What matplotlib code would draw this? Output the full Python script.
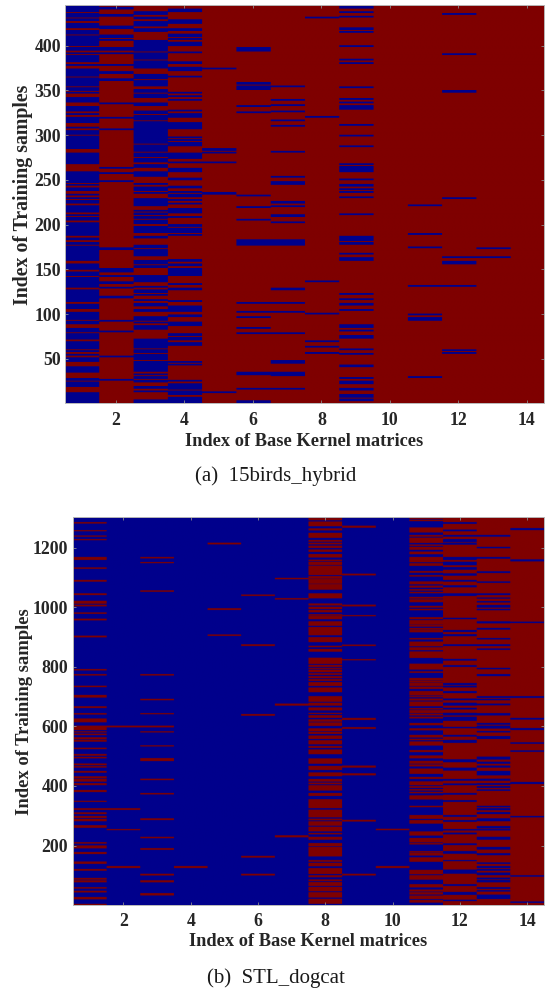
import numpy as np
import matplotlib
matplotlib.use("Agg")
import matplotlib.pyplot as plt
from matplotlib.colors import ListedColormap

plt.rcParams['font.family'] = ['Liberation Serif', 'DejaVu Serif']

W, H = 547, 992
BLUE = '#00008c'
RED = '#7f0000'
TEXT = '#262626'

# ---------- (a) 15birds_hybrid : stretches of rows that are blue on a red column ----------
a_rows = 445
a1 = [(438,445),(435,436),(432,434),(428,430),(420,425),(413,417),(400,411),(397,398),(395,396),(391,392),
      (382,389),(378,379),(366,374),(355,364),(350,353),(347,348),(337,342),(327,332),(323,324),(314,320),
      (308,309),(301,305),(289,299),(285,288),(270,280),(268,269),(247,259),(244,245),(238,241),(233,234),
      (229,230),(224,227),(214,221),(210,211),(205,208),(193,202),(188,192),(183,185),(178,180),(175,176),
      (173,175),(165,172),(160,164),(152,156),(150,152),(143,147),(137,141),(134,136),(130,133),(114,127),
      (106,111),(97,102),(94,96),(89,92),(80,84),(72,78),(67,69),(64,66),(61,64),(58,59),(54,55),(47,51),
      (35,41),(26,28),(19,24),(5,12),(3,4),(1,2)]
a2 = [(441,443),(433,435),(419,422),(411,412),(409,410),(406,407),(395,398),(391,392),(378,379),(369,371),
      (361,363),(335,336),(319,320),(306,307),(263,264),(257,258),(248,249),(172,174),(150,151),(147,149),
      (142,143),(134,136),(129,130),(118,120),(92,93),(80,81),(52,53),(26,27)]
a3 = [(435,438),(430,432),(422,427),(416,419),(404,406),(401,403),(398,400),(394,397),(385,392),(379,383),
      (375,378),(363,368),(358,361),(355,357),(348,351),(342,346),(335,336),(333,335),(324,327),(320,322),
      (317,319),(311,315),(306,310),(297,305),(295,296),(291,294),(287,289),(282,286),(278,280),(276,277),
      (270,274),(264,267),(257,259),(254,256),(245,246),(241,242),(238,240),(235,236),(227,229),(222,226),
      (221,223),(215,216),(211,213),(207,209),(201,205),(196,198),(191,195),(185,187),(174,177),(168,172),
      (165,167),(156,160),(152,154),(136,143),(130,131),(124,127),(121,122),(115,116),(109,112),(103,105),
      (95,97),(93,94),(90,91),(83,87),(66,72),(62,65),(57,60),(49,55),(36,47),(32,33),(28,30),(24,26),
      (17,19),(13,14),(3,4),(1,2)]
a4 = [(438,441),(425,429),(417,419),(410,413),(407,408),(402,404),(400,401),(392,393),(380,382),(374,376),
      (372,373),(365,366),(347,348),(343,344),(339,340),(327,328),(320,324),(312,314),(309,311),(307,308),
      (297,298),(294,295),(290,292),(288,289),(279,280),(277,278),(274,276),(269,270),(259,263),(250,252),
      (241,243),(236,237),(231,234),(227,228),(223,224),(217,218),(213,216),(208,209),(198,200),(193,196),
      (191,192),(188,189),(159,161),(154,156),(143,151),(133,134),(127,129),(114,115),(103,109),(97,99),
      (87,91),(76,78),(71,74),(65,68),(46,47),(43,44),(25,26),(16,22),(10,14),(4,7),(1,3)]
a5 = [(374,375),(283,285),(280,281),(269,270),(234,236),(12,13)]
a6 = [(397,398),(394,396),(357,359),(353,355),(351,352),(332,333),(325,326),(232,233),(219,220),(205,206),
      (180,183),(177,179),(112,113),(102,103),(96,97),(84,85),(78,79),(34,35),(32,33),(16,17),(1,3)]
a7 = [(354,355),(339,340),(333,334),(326,327),(316,317),(310,311),(281,282),(253,254),(245,248),(224,226),
      (220,221),(209,211),(202,203),(180,183),(177,179),(127,129),(112,113),(102,103),(78,79),(47,48),(45,46),
      (31,35),(16,17)]
a8 = [(431,432),(320,321),(136,137),(100,101),(69,70),(63,64),(56,57)]
a9 = [(442,444),(437,438),(432,433),(418,420),(415,416),(399,400),(384,385),(380,381),(353,354),(340,341),
      (336,337),(329,333),(311,312),(299,300),(287,288),(267,268),(259,265),(250,251),(243,245),(239,240),
      (236,237),(230,231),(211,212),(182,187),(178,180),(167,168),(160,163),(122,123),(116,117),(110,112),
      (104,105),(85,88),(81,82),(73,76),(60,61),(55,56),(41,43),(28,29),(22,25),(15,17),(7,10),(3,5)]
a10 = []
a11 = [(221,222),(189,190),(174,175),(131,132),(99,100),(93,96),(29,30)]
a12 = [(435,436),(390,391),(348,350),(229,230),(163,164),(156,159),(131,132),(59,60),(56,57)]
a13 = [(173,174),(163,164)]
a14 = []
a_blue_bands = [a1,a2,a3,a4,a5,a6,a7,a8,a9,a10,a11,a12,a13,a14]

# ---------- (b) STL_dogcat ----------
b_rows = 1302
# columns 1-11: stretches of rows that are red on a blue column
b1 = [(1281,1285),(1255,1258),(1237,1240),(1225,1228),(1159,1168),(1129,1133),(1086,1091),(1041,1046),
      (1012,1021),(1003,1008),(978,982),(956,961),(899,904),(788,792),(771,775),(732,736),(697,705),(662,667),
      (640,644),(614,626),(588,602),(580,583),(571,575),(557,563),(549,554),(524,528),(502,507),(493,497),
      (470,475),(462,466),(445,450),(426,432),(415,423),(403,409),(380,386),(347,350),(320,325),(306,311),
      (293,299),(282,289),(260,268),(207,211),(191,200),(172,178),(139,146),(116,121),(86,91),(77,83),(56,60),
      (43,48),(20,27),(1,4)]
b2 = [(597,602),(320,325),(252,255),(125,131)]
b3 = [(1164,1168),(1148,1151),(1052,1056),(771,775),(688,692),(641,644),(597,602),(580,583),(533,536),
      (484,493),(420,424),(372,376),(286,291),(225,229),(186,191),(100,105),(77,83),(33,40)]
b4 = [(125,131)]
b5 = [(1211,1216),(991,996),(904,908)]
b6 = [(1038,1042),(870,875),(636,641),(160,165),(100,105)]
b7 = [(1094,1098),(1026,1030),(670,676),(228,234)]
b8 = [(1292,1299),(1272,1287),(1258,1264),(1233,1249),(1220,1225),(1211,1216),(1199,1206),(1186,1193),
      (1167,1178),(1155,1159),(1142,1152),(1108,1139),(1096,1104),(1079,1094),(1059,1077),(1030,1046),
      (1006,1012),(994,1001),(983,990),(972,976),(960,970),(938,952),(906,933),(883,899),(866,870),(851,859),
      (810,830),(800,806),(793,796),(782,790),(773,778),(762,768),(753,758),(736,748),(715,730),(683,701),
      (670,679),(654,663),(642,645),(629,637),(616,623),(602,613),(584,593),(575,581),(558,569),(540,553),
      (528,534),(507,522),(475,492),(454,467),(433,445),(415,423),(406,411),(385,402),(367,376),(326,355),
      (295,320),(285,290),(267,281),(248,263),(238,242),(220,229),(198,208),(164,195),(146,151),(131,142),
      (105,124),(94,100),(81,86),(65,77),(47,61),(26,43),(5,21)]
b9 = [(1267,1273),(1107,1112),(1003,1008),(970,973),(870,874),(822,825),(622,628),(592,597),(462,468),
      (436,442),(281,286),(100,105)]
b10 = [(252,256),(125,131)]
b11 = [(1296,1299),(1289,1293),(1251,1267),(1237,1242),(1216,1233),(1206,1210),(1193,1202),(1178,1186),
       (1151,1168),(1139,1147),(1116,1121),(1103,1107),(1077,1086),(1066,1072),(1056,1060),(1047,1051),
       (1029,1034),(1017,1026),(999,1004),(990,994),(960,966),(942,956),(935,940),(925,930),(916,923),(892,896),
       (869,884),(856,865),(830,851),(791,810),(780,784),(755,762),(748,753),(736,746),(726,733),(704,718),
       (698,701),(687,693),(668,683),(657,661),(645,654),(637,642),(627,632),(604,611),(587,593),(563,571),
       (554,558),(536,549),(514,520),(493,502),(475,484),(466,472),(441,458),(424,430),(403,415),(394,399),
       (385,389),(376,380),(355,368),(329,333),(290,302),(274,285),(234,247),(211,225),(204,208),(177,181),
       (167,175),(146,160),(104,118),(86,100),(60,70),(46,52),(36,43),(21,32),(9,17)]
b_red_bands = [b1,b2,b3,b4,b5,b6,b7,b8,b9,b10,b11]

# columns 12-14: stretches of rows that are blue on a red column
b12 = [(1280,1285),(1255,1260),(1237,1242),(1219,1228),(1210,1216),(1159,1168),(1141,1152),(1126,1134),
       (1106,1113),(1086,1091),(1067,1073),(1038,1046),(960,964),(917,923),(903,909),(870,875),(821,826),
       (800,805),(739,745),(731,736),(712,718),(688,693),(670,679),(657,662),(637,645),(619,632),(594,598),
       (566,571),(545,554),(480,489),(452,461),(418,423),(403,408),(371,376),(347,352),(297,302),(280,285),
       (251,255),(238,243),(202,207),(173,181),(148,151),(106,119),(65,70),(35,44),(14,18)]
b13 = [(1237,1242),(1198,1202),(1163,1168),(1115,1120),(1082,1086),(1041,1046),(1029,1032),(1016,1020),
       (999,1007),(990,994),(946,952),(925,930),(892,896),(870,875),(857,861),(792,796),(769,775),(696,701),
       (688,692),(671,676),(637,644),(606,611),(593,602),(580,584),(558,567),(489,498),(475,481),(462,468),
       (436,450),(418,424),(404,409),(394,399),(384,388),(329,333),(319,325),(306,312),(282,291),(258,265),
       (251,255),(220,229),(187,195),(168,174),(139,143),(125,131),(116,121),(101,109),(87,92),(77,84),(55,60),
       (46,50),(21,35)]
b14 = [(1259,1265),(1154,1160),(947,951),(696,701),(623,628),(588,594),(542,546),(515,519),(407,413),
       (295,299),(96,100),(8,12)]
b_blue_bands = [b12,b13,b14]

x_ticks = [2,4,6,8,10,12,14]
a_y_ticks = [50,100,150,200,250,300,350,400]
b_y_ticks = [200,400,600,800,1000,1200]
x_label = 'Index of Base Kernel matrices'
y_label = 'Index of Training samples'
caption_a = '(a)  15birds_hybrid'
caption_b = '(b)  STL_dogcat'


def matrix(n_rows, n_cols):
    return np.zeros((n_rows, n_cols), dtype=int)


def paint(m, col, bands, value):
    m[:, col] = 1 - value
    for lo, hi in bands:
        m[lo - 1:hi, col] = value


A = matrix(a_rows, 14)
for c, bands in enumerate(a_blue_bands):
    paint(A, c, bands, 0)

B = matrix(b_rows, 14)
for c, bands in enumerate(b_red_bands):
    paint(B, c, bands, 1)
for c, bands in enumerate(b_blue_bands):
    paint(B, c + 11, bands, 0)

cmap = ListedColormap([BLUE, RED])
fig = plt.figure(figsize=(W / 100, H / 100), dpi=100, facecolor='white')


def panel(m, left, right, top, bottom, yt, xlab_y, cap_y, cap, cap_x, ylab_x, ylab_y, ylab_size, xpad, ypad):
    ax = fig.add_axes([left / W, 1 - bottom / H, (right - left) / W, (bottom - top) / H])
    # columns are widened first, so that only the row direction gets resampled
    wide = np.repeat(m, 40, axis=1)
    ax.imshow(wide, cmap=cmap, vmin=0, vmax=1, origin='lower', aspect='auto',
              extent=(0.5, 14.5, 0.5, m.shape[0] + 0.5),
              interpolation='hanning', interpolation_stage='rgba')
    ax.set_xticks(x_ticks)
    ax.set_yticks(yt)
    ax.tick_params(direction='in', length=2.5, width=0.6, color='#8a8a8a', top=True, right=True,
                   labelsize=12.8, labelcolor=TEXT)
    ax.tick_params(axis='x', pad=xpad)
    ax.tick_params(axis='y', pad=ypad)
    for t in ax.get_xticklabels() + ax.get_yticklabels():
        t.set_fontweight('bold')
    for s in ax.spines.values():
        s.set_color('#b8b8b8')
        s.set_linewidth(0.7)
    fig.text((left + right) / 2 / W + 0.0, 1 - xlab_y / H, x_label, ha='center', va='center',
             fontsize=13.2, fontweight='bold', color=TEXT)
    fig.text(ylab_x / W, 1 - ylab_y / H, y_label, ha='center', va='center', rotation=90,
             fontsize=ylab_size, fontweight='bold', color=TEXT)
    fig.text(cap_x / W, 1 - cap_y / H, cap, ha='center', va='center', fontsize=15, color='#1a1a1a')


panel(A, 64.5, 544, 5, 403, a_y_ticks, 441, 476, caption_a, 276, 23, 195, 14.3, 6.5, 2.5)
panel(B, 73, 544, 517, 905, b_y_ticks, 942, 978, caption_b, 276, 25, 712, 13.4, 6.0, 3.5)

fig.savefig('out.png', dpi=100)
